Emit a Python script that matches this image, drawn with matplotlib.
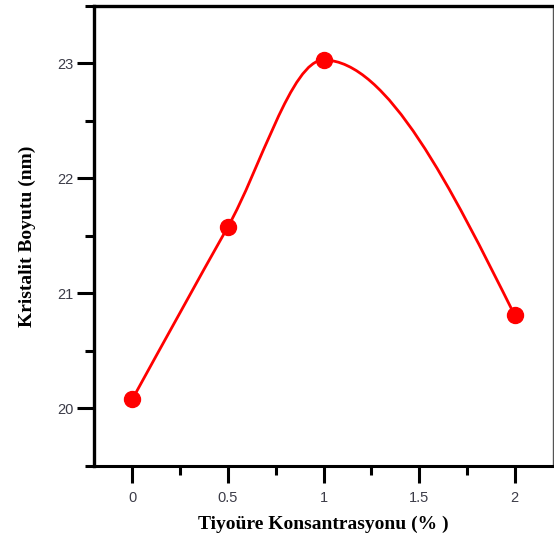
import numpy as np
import matplotlib.pyplot as plt
from matplotlib.path import Path
from matplotlib.patches import PathPatch
from matplotlib.ticker import MultipleLocator

# data
konsantrasyon = [0, 0.5, 1, 2]
boyut = [20.08, 21.58, 23.03, 20.81]

x_ticks = [0, 0.5, 1, 1.5, 2]
x_ticklabels = ['0', '0.5', '1', '1.5', '2']
y_ticks = [20, 21, 22, 23]


def smooth_path(xs, ys):
    # piecewise cubic through the points (shape preserving inside,
    # natural ends), handed to matplotlib as bezier segments
    xs = np.asarray(xs, float)
    ys = np.asarray(ys, float)
    h = np.diff(xs)
    s = np.diff(ys) / h
    n = len(xs)
    d = np.zeros(n)
    for i in range(1, n - 1):
        if s[i - 1] * s[i] > 0:
            w1 = 2 * h[i] + h[i - 1]
            w2 = h[i] + 2 * h[i - 1]
            d[i] = (w1 + w2) / (w1 / s[i - 1] + w2 / s[i])
    d[0] = (3 * s[0] - d[1]) / 2
    d[-1] = (3 * s[-1] - d[-2]) / 2

    verts = [(xs[0], ys[0])]
    codes = [Path.MOVETO]
    for i in range(n - 1):
        verts += [(xs[i] + h[i] / 3, ys[i] + d[i] * h[i] / 3),
                  (xs[i + 1] - h[i] / 3, ys[i + 1] - d[i + 1] * h[i] / 3),
                  (xs[i + 1], ys[i + 1])]
        codes += [Path.CURVE4] * 3
    return Path(verts, codes)


fig = plt.figure(figsize=(5.54, 5.41), dpi=100)
ax = fig.add_axes([0.170, 0.139, 0.828, 0.850])

ax.add_patch(PathPatch(smooth_path(konsantrasyon, boyut), fill=False,
                       edgecolor='red', lw=2.0, zorder=2))
ax.plot(konsantrasyon, boyut, 'o', color='red', markersize=11.5, zorder=3)

ax.set_xlim(-0.2, 2.2)
ax.set_ylim(19.5, 23.5)
ax.set_xticks(x_ticks)
ax.set_xticklabels(x_ticklabels)
ax.set_yticks(y_ticks)
ax.xaxis.set_minor_locator(MultipleLocator(0.25))
ax.yaxis.set_minor_locator(MultipleLocator(0.5))

tick_col = '#3c3c48'
ax.tick_params(which='major', direction='out', length=12, width=2.2,
               labelsize=10.5, labelcolor=tick_col)
ax.tick_params(which='minor', direction='out', length=6.5, width=2.2)
ax.tick_params(axis='x', which='major', pad=6)
ax.tick_params(axis='y', which='major', pad=3)
for lab in ax.get_xticklabels() + ax.get_yticklabels():
    lab.set_family('Liberation Sans')

ax.spines['left'].set_linewidth(2.4)
ax.spines['bottom'].set_linewidth(2.2)
ax.spines['top'].set_linewidth(2.4)
ax.spines['right'].set_linewidth(1.0)
ax.spines['right'].set_color('#555555')

ax.set_xlabel('Tiyoüre Konsantrasyonu (% )', family='Liberation Serif',
              fontweight='bold', fontsize=14, labelpad=8)
ax.set_ylabel('Kristalit Boyutu (nm)', family='Liberation Serif',
              fontweight='bold', fontsize=14, labelpad=15)

fig.savefig('out.png', dpi=100)
